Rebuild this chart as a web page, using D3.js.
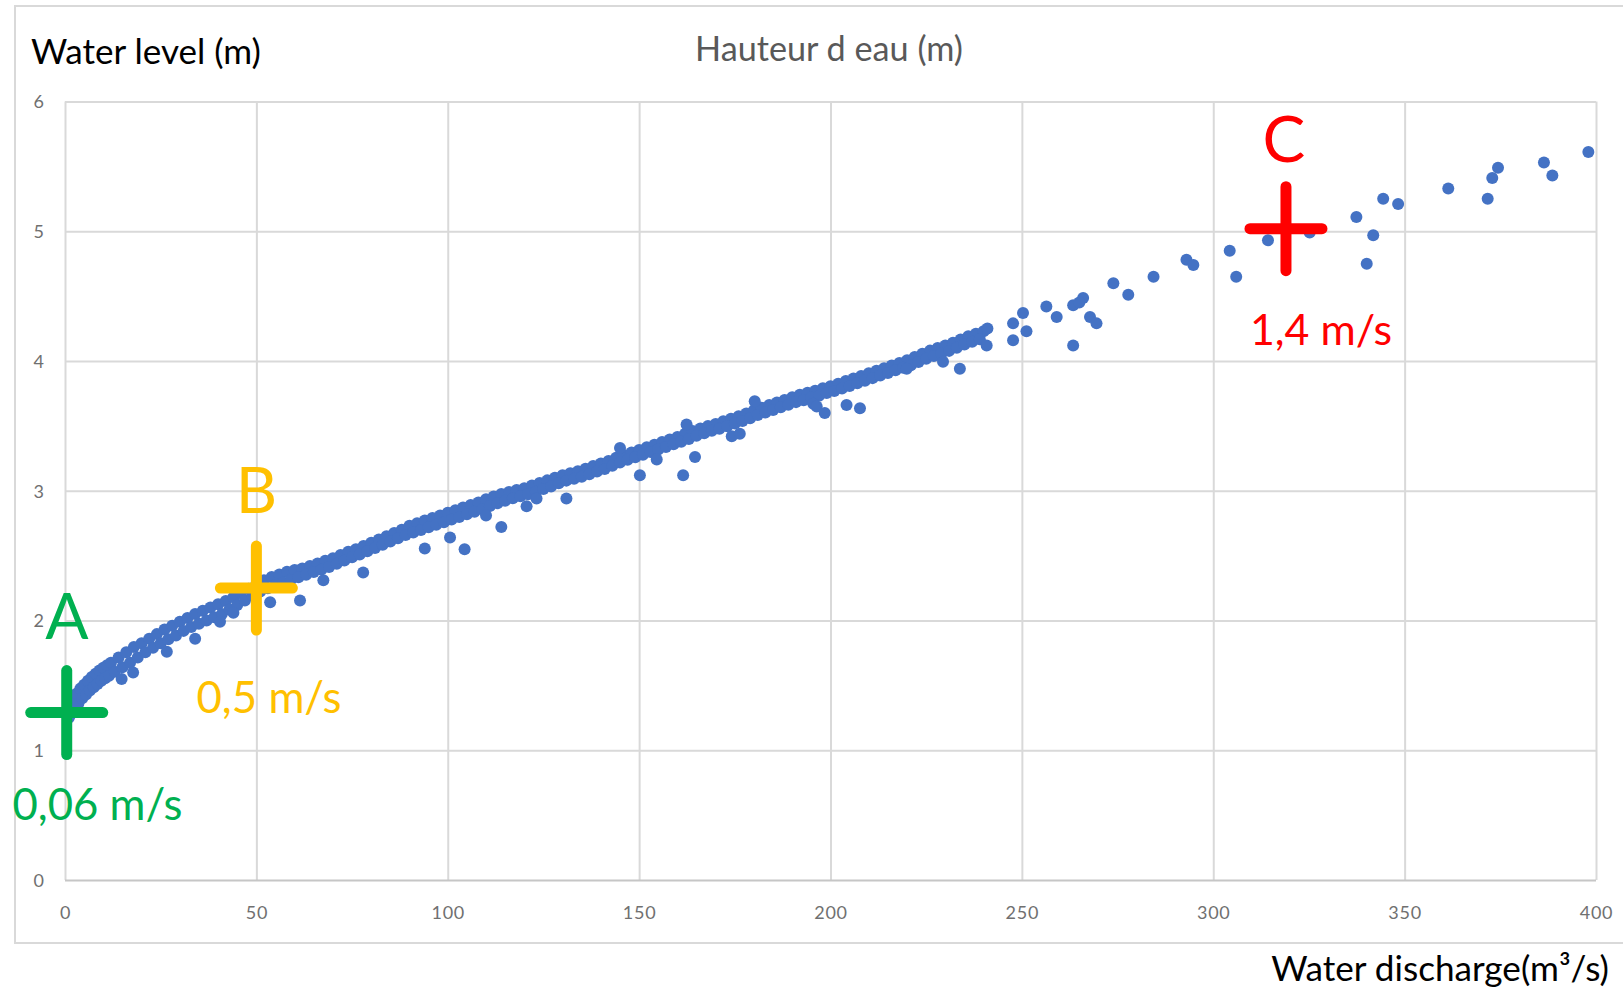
<!DOCTYPE html>
<html>
<head>
<meta charset="utf-8">
<script src="https://cdn.jsdelivr.net/npm/d3@7"></script>
<style>
  html, body { margin: 0; padding: 0; background: #fff; }
  svg { display: block; }
  text { font-family: Lato, "Open Sans", sans-serif; }
</style>
</head>
<body>
<svg id="chart" width="1623" height="987"></svg>
<script>
// ---------------- DATA ----------------
const chartTitle = "Hauteur d eau (m)";
const yAxisLabel = "Water level (m)";
const xAxisLabel = "Water discharge(m³/s)";
const xTickValues = [0, 50, 100, 150, 200, 250, 300, 350, 400];
const yTickValues = [0, 1, 2, 3, 4, 5, 6];

// dense part of the rating curve (upper row of dots)
const bandUpperQ = [0.5,1,2,3,4,5,6,7,8,9,10,11,12,14,16,18,20,22,24,26,28,30,32,34,36,38,40,42,44,46,48,50,52,54,56,58,60,62,64,66,68,70,72,74,76,78,80,82,84,86,88,90,92,94,96,98,100,102,104,106,108,110,112,114,116,118,120,122,124,126,128,130,132,134,136,138,140,142,144,146,148,150,152,154,156,158,160,162,164,166,168,170,172,174,176,178,180,182,184,186,188,190,192,194,196,198,200,202,204,206,208,210,212,214,216,218,220,222,224,226,228,230,232,234,236,238,240];
const bandUpperH = [1.30,1.34,1.395,1.435,1.475,1.505,1.535,1.565,1.59,1.615,1.635,1.655,1.675,1.715,1.755,1.795,1.825,1.86,1.895,1.93,1.96,1.99,2.02,2.05,2.075,2.10,2.125,2.15,2.18,2.21,2.245,2.28,2.31,2.335,2.355,2.375,2.39,2.40,2.42,2.44,2.46,2.48,2.505,2.53,2.55,2.575,2.60,2.625,2.65,2.675,2.70,2.73,2.75,2.77,2.79,2.81,2.83,2.85,2.87,2.89,2.91,2.935,2.955,2.975,2.99,3.005,3.02,3.04,3.06,3.08,3.10,3.12,3.135,3.15,3.17,3.19,3.21,3.23,3.255,3.275,3.295,3.315,3.335,3.355,3.375,3.395,3.415,3.44,3.46,3.48,3.50,3.515,3.535,3.555,3.575,3.595,3.62,3.64,3.66,3.68,3.70,3.72,3.74,3.755,3.77,3.79,3.805,3.825,3.845,3.865,3.885,3.905,3.925,3.945,3.965,3.985,4.005,4.03,4.055,4.08,4.10,4.12,4.14,4.165,4.19,4.21,4.23];

// dense part of the rating curve (lower row of dots)
const bandLowerQ = [1,1.5,2.5,3.5,4.5,5.5,6.5,7.5,8.5,9.5,10.5,11.5,13,15,17,19,21,23,25,27,29,31,33,35,37,39,41,43,45,47,49,51,53,55,57,59,61,63,65,67,69,71,73,75,77,79,81,83,85,87,89,91,93,95,97,99,101,103,105,107,109,111,113,115,117,119,121,123,125,127,129,131,133,135,137,139,141,143,145,147,149,151,153,155,157,159,161,163,165,167,169,171,173,175,177,179,181,183,185,187,189,191,193,195,197,199,201,203,205,207,209,211,213,215,217,219,221,223,225,227,229,231,233,235,237,239];
const bandLowerH = [1.25,1.28,1.32,1.36,1.40,1.43,1.46,1.485,1.51,1.535,1.555,1.575,1.605,1.64,1.675,1.715,1.755,1.79,1.825,1.855,1.885,1.92,1.95,1.975,2.0,2.025,2.05,2.085,2.12,2.155,2.19,2.223,2.248,2.273,2.293,2.313,2.333,2.353,2.373,2.393,2.413,2.438,2.463,2.488,2.508,2.533,2.558,2.583,2.608,2.633,2.658,2.678,2.698,2.718,2.738,2.758,2.778,2.798,2.818,2.838,2.858,2.883,2.903,2.923,2.943,2.958,2.973,2.993,3.013,3.033,3.058,3.078,3.093,3.108,3.128,3.148,3.168,3.193,3.218,3.238,3.258,3.278,3.298,3.318,3.338,3.358,3.378,3.398,3.423,3.443,3.463,3.478,3.498,3.518,3.538,3.558,3.583,3.603,3.623,3.643,3.663,3.683,3.698,3.718,3.733,3.753,3.768,3.788,3.808,3.828,3.848,3.868,3.888,3.908,3.928,3.948,3.968,3.993,4.018,4.038,4.058,4.078,4.103,4.128,4.148,4.168];

// scattered measurements (off the dense band, and the high-flow tail)
const sparseQ = [14.8,17.8,26.6,34,40.5,44,53.6,61.4,67.5,77.9,94,100.6,104.4,110,114,120.6,123.2,131,145,150.2,154.6,161.5,162.4,164.6,174.2,176.3,180.2,195.5,196.4,198.5,204.2,207.7,219.9,229.4,233.8,240.8,241,247.7,250.3,247.7,251.2,256.4,259.1,263.4,266,267.8,269.5,263.4,265,273.9,277.8,284.4,293,294.8,304.3,306,314.3,325.2,337.4,341.8,340.1,344.4,348.3,361.4,371.7,372.9,374.4,386.4,388.6,398];
const sparseH = [1.55,1.60,1.76,1.86,1.99,2.06,2.14,2.155,2.31,2.37,2.555,2.64,2.55,2.81,2.72,2.88,2.94,2.94,3.33,3.12,3.24,3.12,3.51,3.26,3.42,3.44,3.69,3.67,3.65,3.60,3.66,3.635,3.94,3.995,3.94,4.12,4.25,4.29,4.37,4.16,4.23,4.42,4.34,4.43,4.485,4.34,4.29,4.12,4.45,4.60,4.51,4.65,4.78,4.74,4.85,4.65,4.93,4.99,5.11,4.97,4.75,5.25,5.21,5.33,5.25,5.41,5.49,5.53,5.43,5.61];

// annotated points
const markLabels = ["A", "B", "C"];
const markQ = [0.45, 50, 319];
const markH = [1.29, 2.25, 5.02];
const markSpeed = ["0,06 m/s", "0,5 m/s", "1,4 m/s"];
const markColors = ["#00B050", "#FFC000", "#FF0000"];

// ---------------- BUILD ----------------
const points = [];
bandUpperQ.forEach((q, i) => points.push({ q, h: bandUpperH[i] }));
bandLowerQ.forEach((q, i) => points.push({ q, h: bandLowerH[i] }));
sparseQ.forEach((q, i) => points.push({ q, h: sparseH[i] }));

const svg = d3.select("#chart");
const x = d3.scaleLinear().domain([0, 400]).range([65, 1596]);
const y = d3.scaleLinear().domain([0, 6]).range([880, 101.5]);

// helper: scale font so the text reaches a given width
function fitWidth(sel, target) {
  const node = sel.node();
  const fs = parseFloat(sel.attr("font-size"));
  const w = node.getComputedTextLength();
  if (w > 0) sel.attr("font-size", (fs * target / w).toFixed(2));
  return sel;
}

// outer chart frame
svg.append("rect")
  .attr("x", 15).attr("y", 6).attr("width", 1620).attr("height", 937)
  .attr("fill", "none").attr("stroke", "#d9d9d9").attr("stroke-width", 2);

// gridlines
const gridX = svg.append("g")
  .attr("transform", `translate(0,${y(0)})`)
  .call(d3.axisBottom(x).tickValues(xTickValues).tickSize(-(y(0) - y(6))).tickFormat(""));
gridX.select(".domain").remove();
gridX.selectAll("line").attr("stroke", "#d9d9d9").attr("stroke-width", 2);

const gridY = svg.append("g")
  .attr("transform", `translate(${x(0)},0)`)
  .call(d3.axisLeft(y).tickValues(yTickValues).tickSize(-(x(400) - x(0))).tickFormat(""));
gridY.select(".domain").remove();
gridY.selectAll("line").attr("stroke", "#d9d9d9").attr("stroke-width", 2);
gridY.selectAll(".tick").filter(d => d === 0).select("line").attr("stroke", "#c6c6c6");

// tick labels
const xAxis = svg.append("g")
  .attr("transform", `translate(0,${y(0)})`)
  .call(d3.axisBottom(x).tickValues(xTickValues).tickSize(0).tickPadding(0).tickFormat(d3.format("d")));
xAxis.select(".domain").remove();
xAxis.selectAll("text")
  .attr("y", 39).attr("dy", "0")
  .attr("font-size", 18).attr("fill", "#707070").attr("letter-spacing", 0.8)
  .style("font-family", "Lato, 'Open Sans', sans-serif");

const yAxis = svg.append("g")
  .attr("transform", `translate(44,0)`)
  .call(d3.axisLeft(y).tickValues(yTickValues).tickSize(0).tickPadding(0).tickFormat(d3.format("d")));
yAxis.select(".domain").remove();
yAxis.selectAll("text")
  .attr("x", 0).attr("dy", "0.35em")
  .attr("font-size", 18).attr("fill", "#707070")
  .style("font-family", "Lato, 'Open Sans', sans-serif");

// dots
svg.append("g").selectAll("circle")
  .data(points).join("circle")
  .attr("cx", d => x(d.q)).attr("cy", d => y(d.h))
  .attr("r", 6).attr("fill", "#4472C4");

// annotation crosses
const marks = markLabels.map((l, i) => ({ l, q: markQ[i], h: markH[i], s: markSpeed[i], c: markColors[i] }));
const crossG = svg.append("g");
marks.forEach(m => {
  const cx = x(m.q), cy = y(m.h);
  crossG.append("line").attr("x1", cx).attr("x2", cx).attr("y1", cy - 42).attr("y2", cy + 42)
    .attr("stroke", m.c).attr("stroke-width", 11).attr("stroke-linecap", "round");
  crossG.append("line").attr("x1", cx - 36).attr("x2", cx + 36).attr("y1", cy).attr("y2", cy)
    .attr("stroke", m.c).attr("stroke-width", 11).attr("stroke-linecap", "round");
});

// annotation letters and speeds
const letterPos = [{ x: 67, y: 639 }, { x: 256.5, y: 513 }, { x: 1284, y: 161.5 }];
const speedPos = [{ x: 12.5, y: 820, w: 170 }, { x: 196.5, y: 713, w: 145 }, { x: 1250, y: 345, w: 142 }];
marks.forEach((m, i) => {
  svg.append("text").attr("x", letterPos[i].x).attr("y", letterPos[i].y)
    .attr("text-anchor", "middle").attr("font-size", 64).attr("fill", m.c).text(m.l);
  const t = svg.append("text").attr("x", speedPos[i].x).attr("y", speedPos[i].y)
    .attr("font-size", 44).attr("fill", m.c).text(m.s);
  fitWidth(t, speedPos[i].w);
});

// titles
fitWidth(svg.append("text").attr("x", 829).attr("y", 61).attr("text-anchor", "middle")
  .attr("font-size", 30).attr("fill", "#595959").text(chartTitle), 268);
fitWidth(svg.append("text").attr("x", 31).attr("y", 64)
  .attr("font-size", 30).attr("fill", "#000").text(yAxisLabel), 230);
fitWidth(svg.append("text").attr("x", 1609).attr("y", 981).attr("text-anchor", "end")
  .attr("font-size", 30).attr("fill", "#000").text(xAxisLabel), 338);
</script>
</body>
</html>
